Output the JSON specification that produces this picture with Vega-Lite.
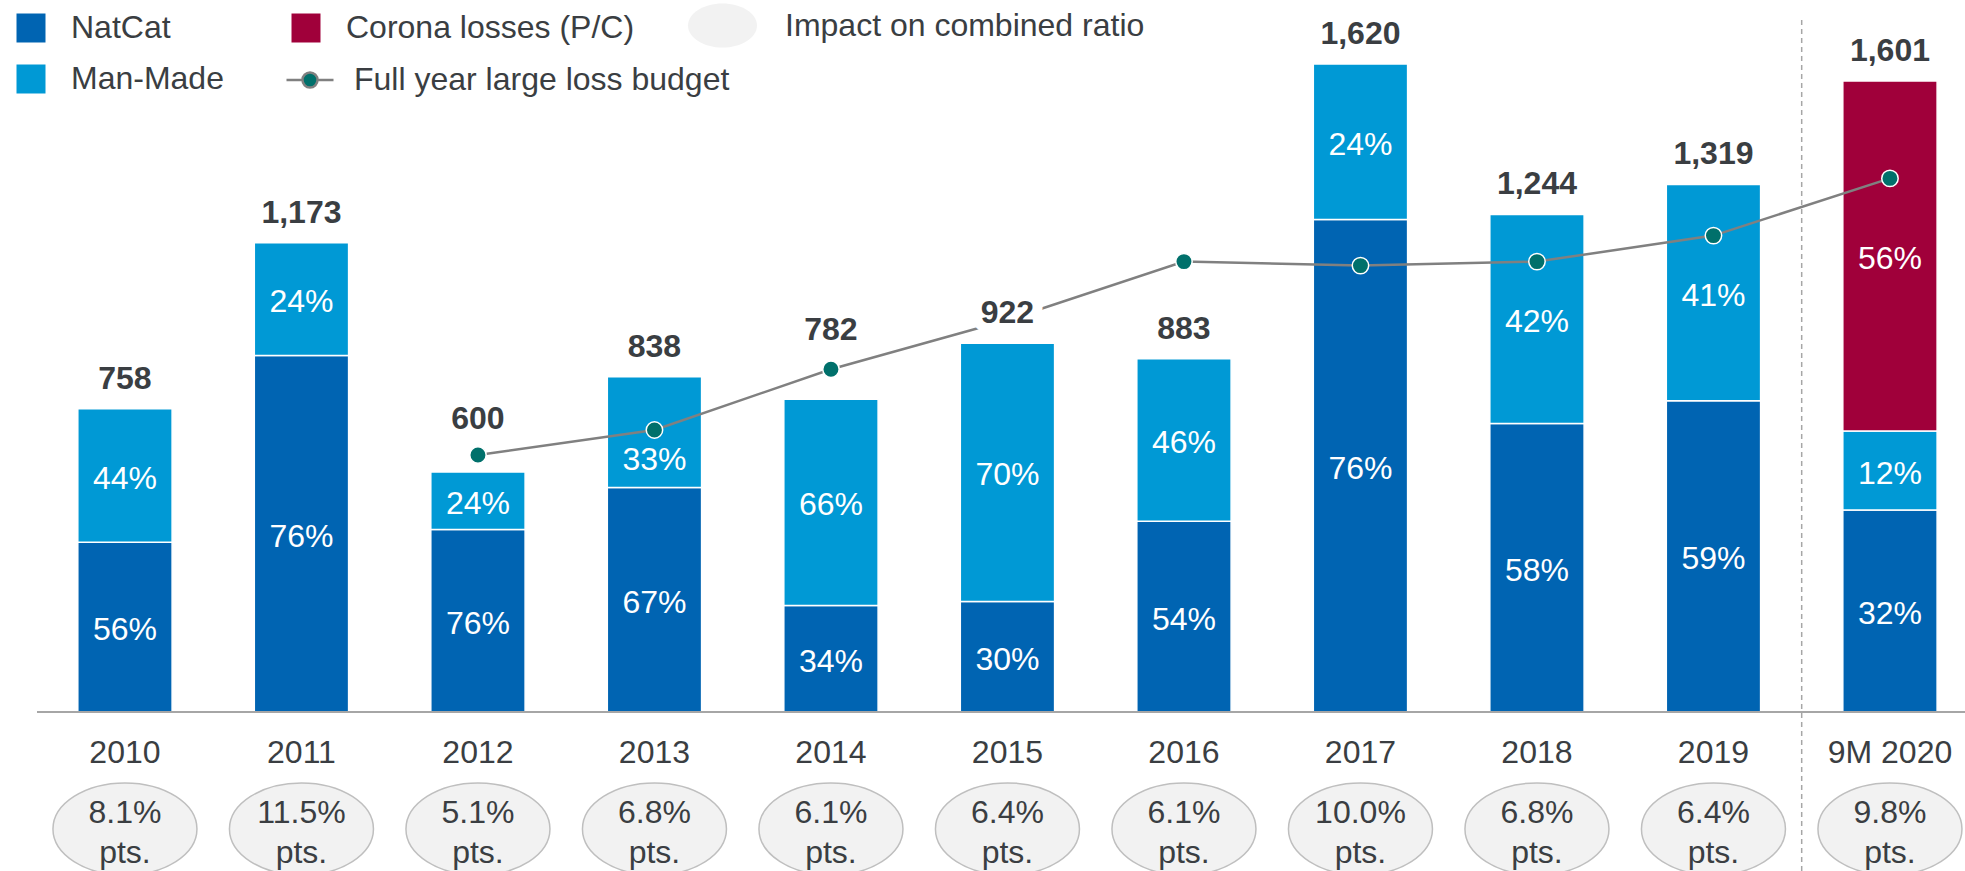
{
  "$schema": "https://vega.github.io/schema/vega-lite/v6.json",
  "width": 1928,
  "height": 871,
  "autosize": {"type": "none"},
  "padding": {"left": 37, "top": 0, "right": 0, "bottom": 0},
  "background": "white",
  "config": {
    "view": {"stroke": null},
    "font": "Liberation Sans",
    "legend": {"labelFontSize": 32, "labelColor": "#3a3e42", "labelLimit": 600, "labelFont": "Liberation Sans", "padding": 0}
  },
  "datasets": {
    "segments": [
      {"period": "2010", "type": "NatCat", "order": 1, "value": 424.5, "pct": "56%", "total": 758},
      {"period": "2010", "type": "Man-Made", "order": 2, "value": 333.5, "pct": "44%", "total": 758},
      {"period": "2011", "type": "NatCat", "order": 1, "value": 891.5, "pct": "76%", "total": 1173},
      {"period": "2011", "type": "Man-Made", "order": 2, "value": 281.5, "pct": "24%", "total": 1173},
      {"period": "2012", "type": "NatCat", "order": 1, "value": 456, "pct": "76%", "total": 600},
      {"period": "2012", "type": "Man-Made", "order": 2, "value": 144, "pct": "24%", "total": 600},
      {"period": "2013", "type": "NatCat", "order": 1, "value": 561.5, "pct": "67%", "total": 838},
      {"period": "2013", "type": "Man-Made", "order": 2, "value": 276.5, "pct": "33%", "total": 838},
      {"period": "2014", "type": "NatCat", "order": 1, "value": 266, "pct": "34%", "total": 782},
      {"period": "2014", "type": "Man-Made", "order": 2, "value": 516, "pct": "66%", "total": 782},
      {"period": "2015", "type": "NatCat", "order": 1, "value": 276.5, "pct": "30%", "total": 922},
      {"period": "2015", "type": "Man-Made", "order": 2, "value": 645.5, "pct": "70%", "total": 922},
      {"period": "2016", "type": "NatCat", "order": 1, "value": 477, "pct": "54%", "total": 883},
      {"period": "2016", "type": "Man-Made", "order": 2, "value": 406, "pct": "46%", "total": 883},
      {"period": "2017", "type": "NatCat", "order": 1, "value": 1231, "pct": "76%", "total": 1620},
      {"period": "2017", "type": "Man-Made", "order": 2, "value": 389, "pct": "24%", "total": 1620},
      {"period": "2018", "type": "NatCat", "order": 1, "value": 721.5, "pct": "58%", "total": 1244},
      {"period": "2018", "type": "Man-Made", "order": 2, "value": 522.5, "pct": "42%", "total": 1244},
      {"period": "2019", "type": "NatCat", "order": 1, "value": 778, "pct": "59%", "total": 1319},
      {"period": "2019", "type": "Man-Made", "order": 2, "value": 541, "pct": "41%", "total": 1319},
      {"period": "9M 2020", "type": "NatCat", "order": 1, "value": 505, "pct": "32%", "total": 1601},
      {"period": "9M 2020", "type": "Man-Made", "order": 2, "value": 197.5, "pct": "12%", "total": 1601},
      {"period": "9M 2020", "type": "Corona losses (P/C)", "order": 3, "value": 875, "pct": "56%", "total": 1601}
    ],
    "budget": [
      {"period": "2012", "budget": 642.5},
      {"period": "2013", "budget": 705},
      {"period": "2014", "budget": 857},
      {"period": "2015", "budget": 980},
      {"period": "2016", "budget": 1126},
      {"period": "2017", "budget": 1116},
      {"period": "2018", "budget": 1126},
      {"period": "2019", "budget": 1191},
      {"period": "9M 2020", "budget": 1334}
    ],
    "impact": [
      {"period": "2010", "label": "8.1%\npts."},
      {"period": "2011", "label": "11.5%\npts."},
      {"period": "2012", "label": "5.1%\npts."},
      {"period": "2013", "label": "6.8%\npts."},
      {"period": "2014", "label": "6.1%\npts."},
      {"period": "2015", "label": "6.4%\npts."},
      {"period": "2016", "label": "6.1%\npts."},
      {"period": "2017", "label": "10.0%\npts."},
      {"period": "2018", "label": "6.8%\npts."},
      {"period": "2019", "label": "6.4%\npts."},
      {"period": "9M 2020", "label": "9.8%\npts."}
    ],
    "one": [{"k": 1}]
  },
  "layer": [
    {
      "data": {"name": "segments"},
      "mark": {"type": "bar", "stroke": "white", "strokeWidth": 1.5},
      "encoding": {
        "x": {"field": "period", "type": "nominal", "sort": null, "scale": {"domain": ["2010","2011","2012","2013","2014","2015","2016","2017","2018","2019","9M 2020"], "paddingInner": 0.4657, "paddingOuter": 0.1946, "align": 0.594}, "axis": null},
        "y": {"field": "value", "type": "quantitative", "stack": "zero", "scale": {"domain": [-397.5, 1780], "nice": false, "zero": false}, "axis": null},
        "fill": {"field": "type", "type": "nominal", "scale": {"domain": ["NatCat", "Corona losses (P/C)", "Man-Made"], "range": ["#0064b2", "#a0003a", "#0099d5"]},
          "legend": {"title": null, "orient": "none", "legendX": -22, "legendY": 12, "columns": 2, "direction": "horizontal", "symbolType": "square", "symbolSize": 841, "symbolStrokeWidth": 0, "labelOffset": 24, "columnPadding": 66, "rowPadding": 19}},
        "order": {"field": "order", "type": "quantitative"}
      }
    },
    {
      "data": {"name": "one"},
      "mark": {"type": "rule", "color": "#a6a6a6", "strokeWidth": 2},
      "encoding": {"y": {"datum": 0, "type": "quantitative"}}
    },
    {
      "data": {"name": "one"},
      "mark": {"type": "rule", "color": "#a6a6a6", "strokeWidth": 1.5, "strokeDash": [5, 4]},
      "encoding": {
        "x": {"datum": "9M 2020", "type": "nominal", "bandPosition": -0.436},
        "y": {"datum": 1730, "type": "quantitative"},
        "y2": {"datum": -397.5}
      }
    },
    {
      "data": {"name": "budget"},
      "mark": {"type": "line", "strokeWidth": 2.5},
      "encoding": {
        "x": {"field": "period", "type": "nominal"},
        "y": {"field": "budget", "type": "quantitative"},
        "stroke": {"datum": "Full year large loss budget", "type": "nominal", "scale": {"domain": ["Full year large loss budget"], "range": ["#808080"]},
          "legend": {"title": null, "orient": "none", "legendX": 248, "legendY": 55, "symbolType": "M-1,0L-0.32,0M0.32,0L1,0M-0.32,0A0.32,0.32,0,1,0,0.32,0A0.32,0.32,0,1,0,-0.32,0Z", "symbolSize": 2209, "symbolStrokeWidth": 2.5, "labelOffset": 19,
            "encode": {"symbols": {"update": {"fill": {"value": "#00706b"}, "stroke": {"value": "#808080"}, "opacity": {"value": 1}}}}}}
      }
    },
    {
      "data": {"name": "budget"},
      "mark": {"type": "point", "filled": true, "fill": "#00706b", "stroke": "white", "strokeWidth": 1.5, "size": 270, "opacity": 1},
      "encoding": {
        "x": {"field": "period", "type": "nominal"},
        "y": {"field": "budget", "type": "quantitative"}
      }
    },
    {
      "data": {"name": "segments"},
      "transform": [
        {"aggregate": [{"op": "sum", "field": "value", "as": "top"}, {"op": "max", "field": "total", "as": "total"}], "groupby": ["period"]},
        {"calculate": "datum.top + (datum.period === '2012' ? 57.5 : datum.period === '2014' ? 97.5 : 0)", "as": "anchor"}
      ],
      "mark": {"type": "text", "fontWeight": "bold", "fontSize": 32, "baseline": "alphabetic", "dy": -20, "fill": "white", "stroke": "white", "strokeWidth": 20, "strokeJoin": "round"},
      "encoding": {
        "x": {"field": "period", "type": "nominal"},
        "y": {"field": "anchor", "type": "quantitative"},
        "text": {"field": "total", "type": "quantitative", "format": ","}
      }
    },
    {
      "data": {"name": "segments"},
      "transform": [
        {"aggregate": [{"op": "sum", "field": "value", "as": "top"}, {"op": "max", "field": "total", "as": "total"}], "groupby": ["period"]},
        {"calculate": "datum.top + (datum.period === '2012' ? 57.5 : datum.period === '2014' ? 97.5 : 0)", "as": "anchor"}
      ],
      "mark": {"type": "text", "fontWeight": "bold", "fontSize": 32, "baseline": "alphabetic", "dy": -20, "fill": "#3a3e42"},
      "encoding": {
        "x": {"field": "period", "type": "nominal"},
        "y": {"field": "anchor", "type": "quantitative"},
        "text": {"field": "total", "type": "quantitative", "format": ","}
      }
    },
    {
      "data": {"name": "segments"},
      "transform": [
        {"stack": "value", "groupby": ["period"], "sort": [{"field": "order", "order": "ascending"}], "as": ["v0", "v1"]},
        {"calculate": "(datum.v0 + datum.v1) / 2 - (datum.period === '2013' && datum.type === 'Man-Made' ? 62.5 : 0)", "as": "mid"}
      ],
      "mark": {"type": "text", "fontSize": 32, "fill": "white", "baseline": "middle", "dy": 3},
      "encoding": {
        "x": {"field": "period", "type": "nominal"},
        "y": {"field": "mid", "type": "quantitative"},
        "text": {"field": "pct"}
      }
    },
    {
      "data": {"name": "impact"},
      "mark": {"type": "point", "filled": true, "fill": "#f2f2f2", "stroke": "#bfbfbf", "strokeWidth": 1.5, "size": 20736, "opacity": 1},
      "encoding": {
        "x": {"field": "period", "type": "nominal"},
        "y": {"datum": -292.5, "type": "quantitative"},
        "shape": {"datum": "Impact on combined ratio", "type": "nominal", "scale": {"domain": ["Impact on combined ratio"], "range": ["M-1,0A1,0.64,0,1,0,1,0A1,0.64,0,1,0,-1,0Z"]},
          "legend": {"title": null, "orient": "none", "legendX": 650, "legendY": -10, "symbolSize": 4761, "symbolFillColor": "#f2f2f2", "symbolStrokeColor": "#bfbfbf", "symbolStrokeWidth": 1.5, "labelOffset": 27,
            "encode": {"symbols": {"update": {"fill": {"value": "#f2f2f2"}, "stroke": {"value": "#bfbfbf"}, "opacity": {"value": 1}}}}}}
      }
    },
    {
      "data": {"name": "impact"},
      "mark": {"type": "text", "fontSize": 32, "fill": "#3a3e42", "baseline": "middle"},
      "encoding": {
        "x": {"field": "period", "type": "nominal"},
        "y": {"datum": -102.5, "type": "quantitative"},
        "text": {"field": "period"},
        "fontWeight": {"condition": {"test": "datum.period === '9M 2020'", "value": "bold"}, "value": "normal"}
      }
    },
    {
      "data": {"name": "impact"},
      "mark": {"type": "text", "fontSize": 32, "fill": "#3a3e42", "baseline": "middle", "lineBreak": "\n", "lineHeight": 40},
      "encoding": {
        "x": {"field": "period", "type": "nominal"},
        "y": {"datum": -252.5, "type": "quantitative"},
        "text": {"field": "label"}
      }
    }
  ]
}
